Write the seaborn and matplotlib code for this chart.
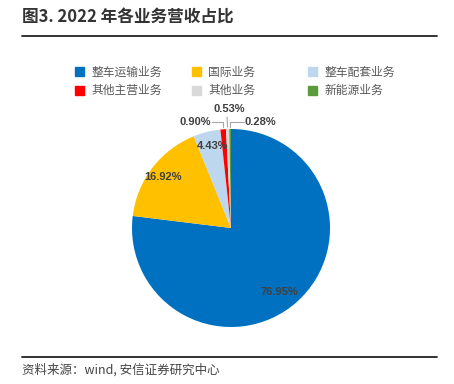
import numpy as np
import matplotlib
matplotlib.use('Agg')
import matplotlib.pyplot as plt
import seaborn as sns

# data
segments = ['整车运输业务', '国际业务', '整车配套业务', '其他主营业务', '其他业务', '新能源业务']
shares = [76.95, 16.92, 4.43, 0.90, 0.53, 0.28]
colors = ['#0070C0', '#FFC000', '#BDD7EE', '#FF0000', '#D9D9D9', '#5B9B3C']
# label positions (pie radius units)
label_pos = [(0.49, -0.65), (-0.69, 0.52), (-0.19, 0.83), (-0.36, 1.07), (-0.02, 1.20), (0.30, 1.07)]
leader = [False, False, False, True, True, True]

sns.set_theme(style='white')
plt.rcParams['font.family'] = ['Noto Sans CJK SC', 'DejaVu Sans']

W, H = 454, 384
fig = plt.figure(figsize=(W / 100, H / 100), dpi=100)

# title and rules
fig.text(22 / W, 1 - 18 / H, '图3. 2022 年各业务营收占比', fontsize=12, fontweight='bold',
         color='#333333', va='center', ha='left')
fig.add_artist(plt.Line2D([22 / W, 437 / W], [1 - 36 / H] * 2, color='#222222', lw=1.3))
fig.add_artist(plt.Line2D([22 / W, 437 / W], [1 - 357 / H] * 2, color='#222222', lw=1.3))
fig.text(22 / W, 1 - 370 / H, '资料来源：wind, 安信证券研究中心', fontsize=9, style='italic',
         color='#444444', va='center', ha='left')

# pie
cx, cy, r = 231, 228, 99
ax = fig.add_axes([(cx - r) / W, (H - cy - r) / H, 2 * r / W, 2 * r / H])
wedges, _ = ax.pie(shares, colors=colors, startangle=90, counterclock=False,
                   wedgeprops=dict(linewidth=0))
ax.set_xlim(-1, 1)
ax.set_ylim(-1, 1)
ax.set_aspect('auto')
ax.axis('off')

for w, v, (lx, ly), ld in zip(wedges, shares, label_pos, leader):
    if ld:
        ang = np.deg2rad((w.theta1 + w.theta2) / 2)
        px, py = np.cos(ang), np.sin(ang) + 0.02
        if abs(lx - px) < 0.1:
            ax.plot([lx - 0.02, px], [ly - 0.08, py], color='#A6A6A6', lw=0.8, clip_on=False)
        else:
            sx = lx + 0.17 if lx < px else lx - 0.17
            ax.plot([sx, px, px], [ly, ly, py], color='#A6A6A6', lw=0.8, clip_on=False)
    ax.text(lx, ly, f'{v:.2f}%', ha='center', va='center', fontsize=8, fontweight='bold',
            color='#404040', family=['Liberation Sans', 'DejaVu Sans'], clip_on=False)

# legend: three columns, two rows, filled row by row
col_x = [69, 186, 302]
for c, x0 in enumerate(col_x):
    idx = [c, c + 3]
    handles = [plt.Rectangle((0, 0), 1, 1, color=colors[i]) for i in idx]
    leg = fig.legend(handles, [segments[i] for i in idx], loc='upper left',
                     bbox_to_anchor=(x0 / W, 1 - 60 / H), ncol=1, frameon=False,
                     fontsize=8.5, handlelength=0.8, handleheight=0.8, borderpad=0,
                     labelspacing=0.45, handletextpad=0.6, labelcolor='#595959')

fig.savefig('out.png', dpi=100)
